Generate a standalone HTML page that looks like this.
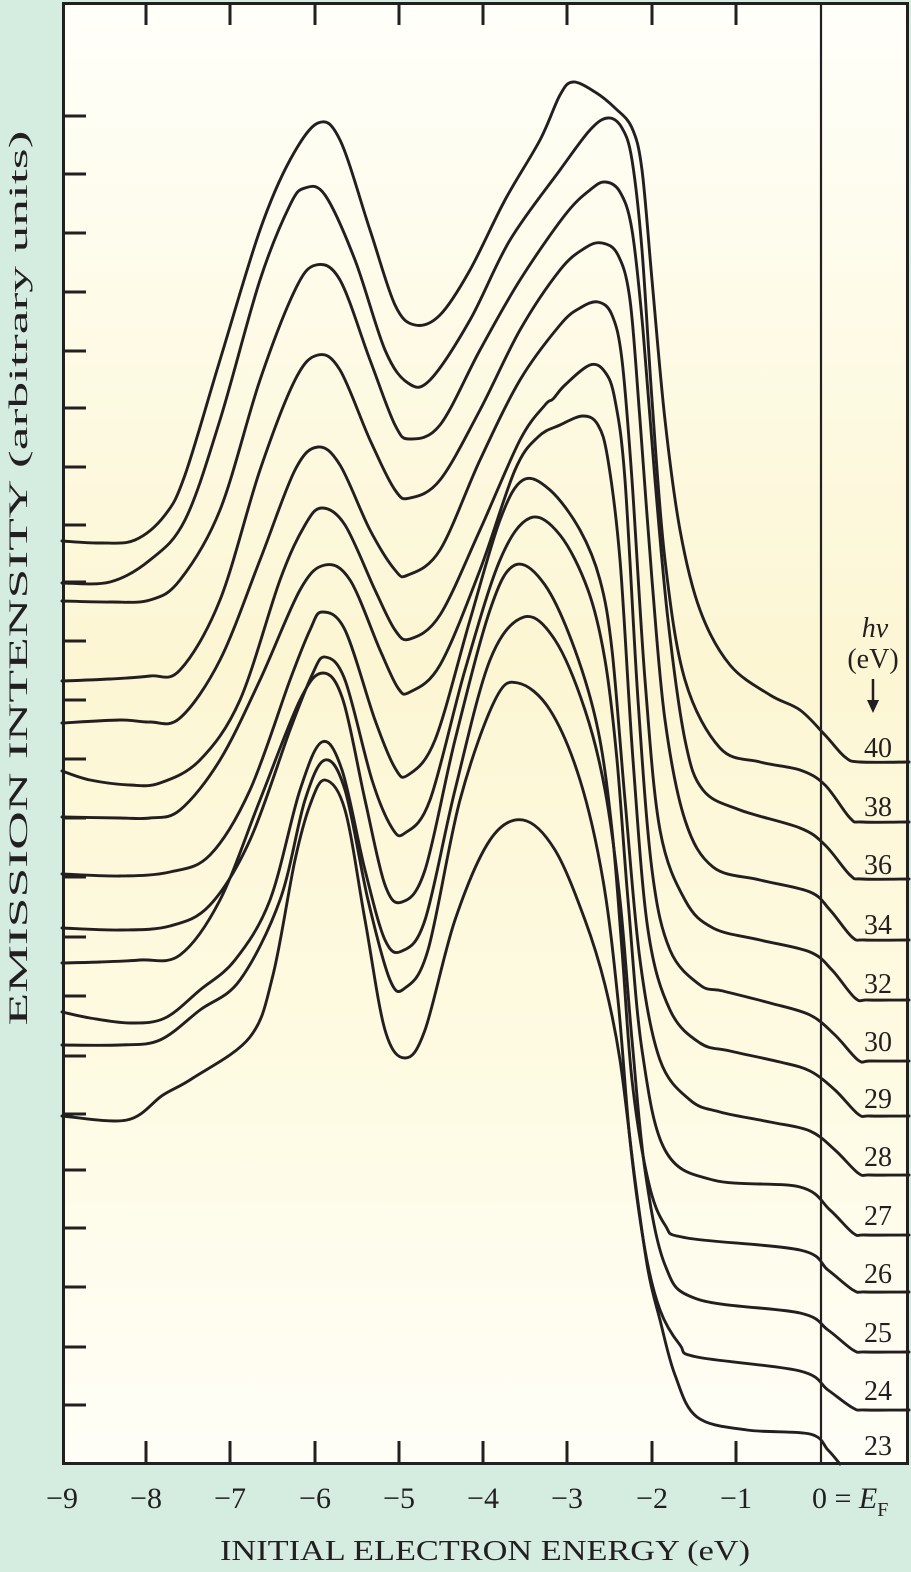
<!DOCTYPE html>
<html><head><meta charset="utf-8">
<style>
html,body{margin:0;padding:0;background:#d5ece1;}
svg{display:block;}
text{font-family:"Liberation Serif",serif;fill:#231f20;}
</style></head>
<body>
<svg id="s" width="911" height="1572" viewBox="0 0 911 1572" xmlns="http://www.w3.org/2000/svg">
<defs>
<linearGradient id="g" x1="0" y1="0" x2="0" y2="1">
<stop offset="0" stop-color="#fffffa"/>
<stop offset="0.45" stop-color="#fcf6d3"/>
<stop offset="0.75" stop-color="#fefbe4"/>
<stop offset="1" stop-color="#fffef7"/>
</linearGradient>
</defs>
<rect x="0" y="0" width="911" height="1572" fill="#d5ece1"/>
<rect x="63" y="3" width="845" height="1461" fill="url(#g)"/>
<g id="curves" fill="none" stroke="#231f20" stroke-width="2.9" stroke-linejoin="round" stroke-linecap="round">
<polyline points="62,541 100,543 135,540 165,515 185,475 220,360 260,230 290,160 318,123 340,140 370,230 395,305 415,325 440,315 470,270 505,200 540,140 560,95 573,82 595,92 615,108 632,128 642,170 652,280 665,420 680,530 700,610 730,665 770,695 800,710 825,735 845,757 860,762 909,762"/>
<polyline points="62,583 110,582 150,560 185,520 220,420 260,280 290,205 305,188 325,195 355,260 385,350 408,383 430,380 470,320 510,240 560,170 590,130 608,118 622,128 632,160 642,250 652,400 665,560 685,680 720,748 760,762 800,770 825,785 850,818 862,822 909,822"/>
<polyline points="62,601 110,602 150,600 180,580 220,510 260,380 295,290 316,265 340,280 370,360 395,425 410,439 440,425 480,350 520,280 565,215 590,190 605,182 620,192 632,230 643,330 655,480 668,620 685,740 703,790 740,810 800,828 825,845 850,875 862,879 909,879"/>
<polyline points="62,681 110,679 150,676 180,670 220,600 260,470 295,380 318,355 340,370 370,440 395,490 410,498 440,480 480,410 520,330 560,270 585,248 602,243 618,255 630,300 640,420 652,580 665,720 685,820 713,867 760,880 810,892 830,910 852,937 865,940 909,940"/>
<polyline points="62,723 120,720 150,722 180,718 220,660 260,560 295,470 318,447 340,465 370,530 395,570 408,575 440,550 480,460 520,380 560,325 580,308 598,302 612,315 622,360 632,480 645,680 660,830 685,900 713,928 760,940 810,952 832,970 855,998 868,1000 909,1000"/>
<polyline points="62,771 90,780 130,785 160,783 200,760 240,700 280,580 305,525 322,508 345,525 375,590 395,630 410,639 440,615 480,530 520,440 545,405 553,399 565,385 590,365 605,372 615,400 625,480 638,700 652,870 670,950 700,985 723,991 770,1003 810,1015 835,1035 858,1060 870,1061 909,1061"/>
<polyline points="62,817 120,818 150,818 180,810 220,760 260,680 300,590 325,565 350,580 380,650 398,688 410,692 440,665 480,570 515,470 538,437 560,425 583,416 598,425 608,460 620,560 633,760 648,930 670,1010 700,1043 730,1051 780,1062 810,1071 835,1090 858,1114 870,1116 909,1116"/>
<polyline points="62,874 120,876 170,872 210,855 250,790 290,680 310,630 322,612 345,630 375,720 395,768 408,775 435,740 470,620 500,520 523,480 550,490 580,530 600,580 612,650 625,800 640,960 660,1060 690,1100 720,1112 770,1122 810,1131 835,1150 858,1173 870,1175 909,1175"/>
<polyline points="62,928 120,930 170,926 210,905 250,840 290,730 312,675 325,657 345,680 372,780 392,828 405,833 430,800 465,670 500,560 530,518 560,535 588,590 605,660 617,760 628,900 642,1050 665,1150 713,1180 800,1187 830,1210 853,1233 865,1235 909,1235"/>
<polyline points="62,963 100,962 140,960 180,955 220,900 260,800 300,700 323,673 343,700 365,800 385,885 402,902 425,870 455,740 490,610 515,565 545,585 575,650 598,730 612,830 622,950 632,1080 648,1180 665,1225 687,1238 800,1250 828,1270 853,1290 865,1292 909,1292"/>
<polyline points="62,1012 90,1018 130,1023 165,1018 200,990 235,960 270,900 300,790 322,742 342,770 365,870 385,940 402,951 425,920 455,790 490,660 524,617 555,640 585,710 605,790 620,900 632,1040 645,1170 665,1265 697,1299 800,1313 828,1330 853,1350 865,1352 909,1352"/>
<polyline points="62,1045 120,1045 160,1040 200,1010 240,980 280,900 305,800 325,760 345,790 368,900 390,980 405,988 428,950 460,800 495,700 518,683 550,710 580,780 603,880 618,1000 630,1140 645,1250 660,1310 680,1345 697,1357 800,1371 828,1390 853,1408 865,1410 909,1410"/>
<polyline points="62,1116 127,1120 163,1095 193,1078 250,1037 273,975 295,860 310,805 325,780 345,810 365,920 385,1030 405,1058 425,1030 455,920 490,840 523,820 555,850 585,920 605,985 620,1060 635,1180 648,1270 660,1320 675,1375 697,1417 747,1430 810,1434 828,1450 840,1464"/>
</g>
<g stroke="#231f20" fill="none">
<rect x="63.5" y="3.5" width="844" height="1460" stroke-width="3"/>
<line x1="821" y1="3" x2="821" y2="1464" stroke-width="2.2"/>
<g stroke-width="3" id="ticks"></g>
</g>
<g font-size="30" text-anchor="middle">
<text x="62" y="1508">−9</text>
<text x="146" y="1508">−8</text>
<text x="230" y="1508">−7</text>
<text x="315" y="1508">−6</text>
<text x="399" y="1508">−5</text>
<text x="483" y="1508">−4</text>
<text x="567" y="1508">−3</text>
<text x="652" y="1508">−2</text>
<text x="736" y="1508">−1</text>
</g>
<text x="821" y="1508" font-size="30" text-anchor="start" dx="-9">0 = <tspan font-style="italic">E</tspan><tspan font-size="20" dy="8">F</tspan></text>
<text x="485" y="1560" font-size="28" text-anchor="middle" textLength="530" lengthAdjust="spacingAndGlyphs">INITIAL ELECTRON ENERGY (eV)</text>
<text transform="translate(27,578) rotate(-90)" font-size="26" text-anchor="middle" textLength="895" lengthAdjust="spacingAndGlyphs">EMISSION INTENSITY (arbitrary units)</text>
<text x="875" y="637" font-size="28" text-anchor="middle" font-style="italic">hν</text>
<text x="873" y="668" font-size="28" text-anchor="middle">(eV)</text>
<line x1="873" y1="679" x2="873" y2="702" stroke="#231f20" stroke-width="2.5"/>
<polygon points="867,700 879,700 873,713" fill="#231f20"/>
<g font-size="28" text-anchor="middle">
<text x="878" y="757">40</text>
<text x="878" y="816">38</text>
<text x="878" y="874">36</text>
<text x="878" y="934">34</text>
<text x="878" y="993">32</text>
<text x="878" y="1051">30</text>
<text x="878" y="1108">29</text>
<text x="878" y="1166">28</text>
<text x="878" y="1225">27</text>
<text x="878" y="1283">26</text>
<text x="878" y="1342">25</text>
<text x="878" y="1400">24</text>
<text x="878" y="1455">23</text>
</g>
</svg>
<script>
(function(){
var NS="http://www.w3.org/2000/svg";
var t=document.getElementById("ticks");
function L(a,b,c,d){var l=document.createElementNS(NS,"line");l.setAttribute("x1",a);l.setAttribute("y1",b);l.setAttribute("x2",c);l.setAttribute("y2",d);t.appendChild(l);}
var xs=[146,230,315,399,483,567,652,736];
xs.forEach(function(x){L(x,3,x,25);L(x,1463,x,1441);});
var ys=[116,174,233,292,351,408,467,525,582,641,700,759,818,877,937,996,1056,1114,1170,1228,1287,1347,1405];
ys.forEach(function(y){L(63,y,86,y);});
var pls=document.querySelectorAll("#curves polyline");
for(var i=0;i<pls.length;i++){
 var pl=pls[i];var pts=pl.getAttribute("points").trim().split(/\s+/).map(function(s){return s.split(",").map(Number);});
 var d="M"+pts[0][0]+","+pts[0][1];
 for(var k=0;k<pts.length-1;k++){
  var p0=pts[k-1]||pts[k],p1=pts[k],p2=pts[k+1],p3=pts[k+2]||p2;
  var c1x=p1[0]+(p2[0]-p0[0])/6,c1y=p1[1]+(p2[1]-p0[1])/6;
  var c2x=p2[0]-(p3[0]-p1[0])/6,c2y=p2[1]-(p3[1]-p1[1])/6;
  d+=" C"+c1x.toFixed(1)+","+c1y.toFixed(1)+" "+c2x.toFixed(1)+","+c2y.toFixed(1)+" "+p2[0]+","+p2[1];
 }
 var p=document.createElementNS(NS,"path");p.setAttribute("d",d);
 pl.parentNode.replaceChild(p,pl);
}
})();
</script>
</body></html>
